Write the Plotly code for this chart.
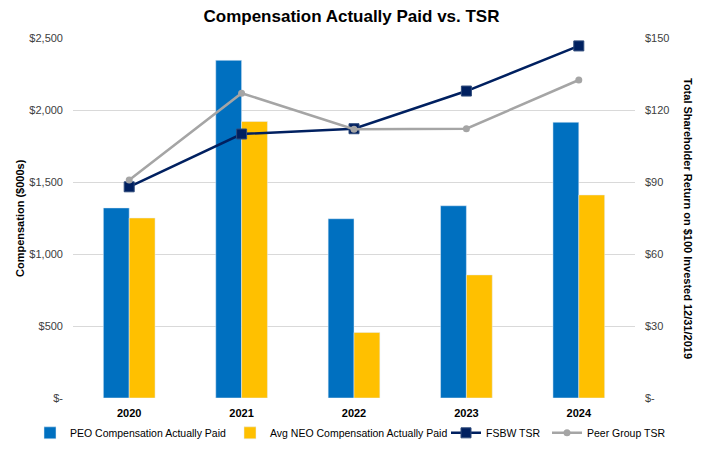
import plotly.graph_objects as go

years = ["2020", "2021", "2022", "2023", "2024"]
peo_cap = [1320, 2345, 1245, 1335, 1915]
neo_cap = [1250, 1920, 455, 855, 1410]
fsbw_tsr = [88.0, 110.0, 112.2, 127.9, 146.7]
peer_tsr = [90.8, 127.0, 112.0, 112.2, 132.5]

left_ticks = [0, 500, 1000, 1500, 2000, 2500]
left_text = ["$-", "$500", "$1,000", "$1,500", "$2,000", "$2,500"]
right_ticks = [0, 30, 60, 90, 120, 150]
right_text = ["$-", "$30", "$60", "$90", "$120", "$150"]

FONT = "Liberation Sans, Arial, sans-serif"

fig = go.Figure()
fig.add_trace(go.Bar(x=years, y=peo_cap, name="PEO Compensation Actually Paid",
                     marker_color="#0070C0", yaxis="y", legend="legend"))
fig.add_trace(go.Bar(x=years, y=neo_cap, name="Avg NEO Compensation Actually Paid",
                     marker_color="#FFC000", yaxis="y", legend="legend2"))
fig.add_trace(go.Scatter(x=years, y=fsbw_tsr, name="FSBW TSR", yaxis="y2", legend="legend3",
                         mode="lines+markers", line=dict(color="#002060", width=2.5),
                         marker=dict(symbol="square", size=10, color="#002060",
                                     line=dict(color="#2E4A7A", width=1))))
fig.add_trace(go.Scatter(x=years, y=peer_tsr, name="Peer Group TSR", yaxis="y2", legend="legend4",
                         mode="lines+markers", line=dict(color="#A5A5A5", width=2.5),
                         marker=dict(symbol="circle", size=7, color="#A5A5A5")))

def leg(x_px):
    return dict(orientation="h", xref="container", yref="container",
                x=x_px / 703, xanchor="left", y=0.036, yanchor="middle",
                font=dict(size=10.5, family=FONT, color="#000000"),
                itemwidth=30, bgcolor="rgba(0,0,0,0)")

fig.update_layout(
    width=703, height=449,
    margin=dict(l=73, r=68, t=38, b=51, autoexpand=False),
    paper_bgcolor="white", plot_bgcolor="white",
    font=dict(family=FONT, size=11, color="#000000"),
    barmode="group", bargap=0.54, bargroupgap=0,
    title=dict(text="<b>Compensation Actually Paid vs. TSR</b>", x=0.5, xanchor="center",
               y=0.965, yanchor="middle", font=dict(size=17, family=FONT, color="#000000")),
    xaxis=dict(tickfont=dict(size=11, family=FONT, color="#000000"), showgrid=False,
               showline=False, ticks="", tickprefix="<b>", ticksuffix="</b>",
               ticklabelstandoff=7),
    yaxis=dict(range=[0, 2500], tickvals=left_ticks, ticktext=left_text,
               showgrid=True, gridcolor="#D9D9D9", gridwidth=1, zeroline=False,
               tickfont=dict(size=11, color="#404040"), ticks="", ticklabelstandoff=9),
    yaxis2=dict(range=[0, 150], tickvals=right_ticks, ticktext=right_text,
                overlaying="y", side="right", showgrid=False, zeroline=False,
                tickfont=dict(size=11, color="#404040"), ticks="", ticklabelstandoff=9),
    legend=leg(30),
    legend2=leg(230),
    legend3=leg(446),
    legend4=leg(547),
    showlegend=True,
)

fig.add_annotation(text="<b>Compensation ($000s)</b>", xref="paper", yref="paper",
                   x=0, y=0.5, textangle=-90, showarrow=False,
                   font=dict(size=11, family=FONT, color="#000000"),
                   xanchor="center", yanchor="middle", xshift=-53)
fig.add_annotation(text="<b>Total Shareholder Return on $100 Invested 12/31/2019</b>",
                   xref="paper", yref="paper", x=1.0, y=0.5, textangle=90, showarrow=False,
                   font=dict(size=11, family=FONT, color="#000000"),
                   xanchor="center", yanchor="middle", xshift=53)

fig.write_html("out.html")
